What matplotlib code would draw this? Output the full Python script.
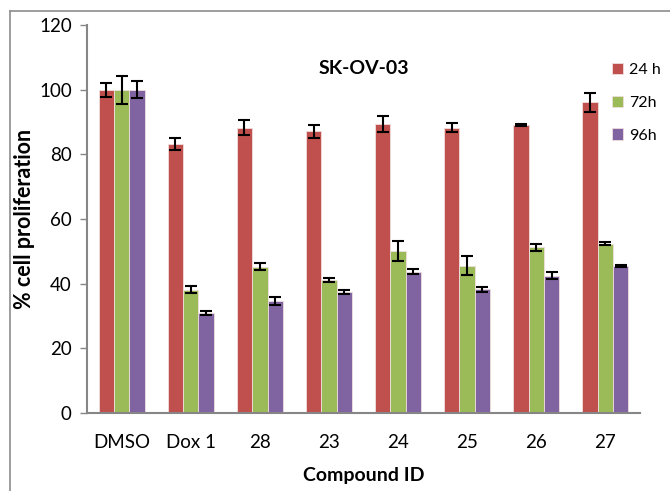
import numpy as np
import matplotlib
matplotlib.use("Agg")
import matplotlib.pyplot as plt
from matplotlib.lines import Line2D

plt.rcParams['font.family'] = ['Lato', 'DejaVu Sans']

compounds = ['DMSO', 'Dox 1', '28', '23', '24', '25', '26', '27']
series = ['24 h', '72h', '96h']
h24 = [100, 83.2, 88.2, 87.1, 89.4, 88.3, 89.2, 96.1]
h72 = [100, 38.1, 45.3, 41.2, 50.1, 45.6, 51.2, 52.4]
h96 = [100, 30.9, 34.7, 37.4, 43.7, 38.2, 42.5, 45.5]
err24 = [2.2, 1.9, 2.3, 1.9, 2.5, 1.5, 0.3, 3.0]
err72 = [4.3, 1.1, 1.0, 0.6, 3.1, 2.8, 1.1, 0.6]
err96 = [2.7, 0.7, 1.3, 0.6, 0.7, 0.8, 1.0, 0.2]
colors = ['#C0504D', '#9BBB59', '#8064A2']

fig = plt.figure(figsize=(6.7, 4.91), dpi=100)
ax = fig.add_axes([0.13, 0.159, 0.825, 0.79])

x = np.arange(len(compounds))
w = 0.222
for i, (vals, errs) in enumerate([(h24, err24), (h72, err72), (h96, err96)]):
    ax.bar(x + (i - 1) * w, vals, w, color=colors[i], edgecolor='#f0dede', linewidth=0.6,
           yerr=errs, capsize=4.5, error_kw=dict(ecolor='black', elinewidth=1.5, capthick=1.5),
           label=series[i], zorder=2)

ax.set_xlim(-0.5, 7.5)
ax.set_ylim(0, 120)
ax.set_yticks(range(0, 121, 20))
ax.set_xticks(x)
ax.set_xticklabels(compounds)
for s in ['top', 'right']:
    ax.spines[s].set_visible(False)
for s in ['left', 'bottom']:
    ax.spines[s].set_color('#868686')
    ax.spines[s].set_linewidth(1.5)
ax.tick_params(axis='y', colors='#868686', labelcolor='black', labelsize=13.5, length=5, width=1, pad=6)
ax.tick_params(axis='x', length=0, labelsize=13.5, pad=15)
ax.set_ylabel('% cell proliferation', fontsize=15.5, fontweight='bold')
ax.yaxis.set_label_coords(-0.094, 0.5)
ax.set_xlabel('Compound ID', fontsize=14, fontweight='bold', labelpad=12)
ax.text(3.5, 106.5, 'SK-OV-03', fontsize=14, fontweight='bold', ha='center', va='center')

ax.legend(loc='upper left', bbox_to_anchor=(0.935, 0.922), frameon=False, fontsize=11.5,
          borderpad=0, handlelength=0.7, handleheight=0.7, handletextpad=0.35, labelspacing=1.15)

fig.add_artist(Line2D([10 / 670, 1], [1 - 11 / 491, 1 - 11 / 491], color='#8c8c8c', lw=1.2))
fig.add_artist(Line2D([10 / 670, 10 / 670], [0, 1 - 11 / 491], color='#8c8c8c', lw=1.2))

fig.savefig('out.png', dpi=100)
